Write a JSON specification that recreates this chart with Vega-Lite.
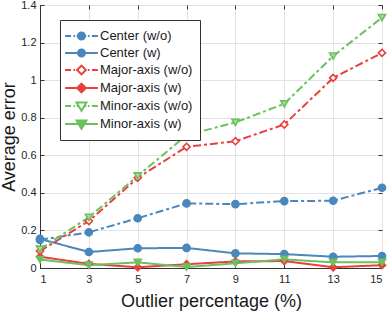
{
  "$schema": "https://vega.github.io/schema/vega-lite/v6.json",
  "autosize": "none",
  "width": 342,
  "height": 263,
  "padding": {"left": 40, "top": 5, "right": 7, "bottom": 43},
  "background": "white",
  "config": {
    "font": "Liberation Sans",
    "view": {"stroke": "#333333", "strokeWidth": 1},
    "axis": {
      "gridColor": "#e3e3e3",
      "gridWidth": 1,
      "domainColor": "#333333",
      "tickColor": "#333333",
      "labelColor": "#262626",
      "labelFontSize": 11,
      "titleColor": "#1a1a1a",
      "titleFontSize": 18,
      "titleFontWeight": "normal"
    }
  },
  "data": {
    "values": [
      {"x": 1, "y": 0.15, "series": "Center (w/o)"},
      {"x": 3, "y": 0.19, "series": "Center (w/o)"},
      {"x": 5, "y": 0.265, "series": "Center (w/o)"},
      {"x": 7, "y": 0.344, "series": "Center (w/o)"},
      {"x": 9, "y": 0.34, "series": "Center (w/o)"},
      {"x": 11, "y": 0.356, "series": "Center (w/o)"},
      {"x": 13, "y": 0.358, "series": "Center (w/o)"},
      {"x": 15, "y": 0.427, "series": "Center (w/o)"},
      {"x": 1, "y": 0.155, "series": "Center (w)"},
      {"x": 3, "y": 0.085, "series": "Center (w)"},
      {"x": 5, "y": 0.105, "series": "Center (w)"},
      {"x": 7, "y": 0.107, "series": "Center (w)"},
      {"x": 9, "y": 0.078, "series": "Center (w)"},
      {"x": 11, "y": 0.074, "series": "Center (w)"},
      {"x": 13, "y": 0.06, "series": "Center (w)"},
      {"x": 15, "y": 0.064, "series": "Center (w)"},
      {"x": 1, "y": 0.09, "series": "Major-axis (w/o)"},
      {"x": 3, "y": 0.25, "series": "Major-axis (w/o)"},
      {"x": 5, "y": 0.48, "series": "Major-axis (w/o)"},
      {"x": 7, "y": 0.645, "series": "Major-axis (w/o)"},
      {"x": 9, "y": 0.675, "series": "Major-axis (w/o)"},
      {"x": 11, "y": 0.764, "series": "Major-axis (w/o)"},
      {"x": 13, "y": 1.012, "series": "Major-axis (w/o)"},
      {"x": 15, "y": 1.145, "series": "Major-axis (w/o)"},
      {"x": 1, "y": 0.06, "series": "Major-axis (w)"},
      {"x": 3, "y": 0.022, "series": "Major-axis (w)"},
      {"x": 5, "y": 0.004, "series": "Major-axis (w)"},
      {"x": 7, "y": 0.02, "series": "Major-axis (w)"},
      {"x": 9, "y": 0.035, "series": "Major-axis (w)"},
      {"x": 11, "y": 0.037, "series": "Major-axis (w)"},
      {"x": 13, "y": 0.004, "series": "Major-axis (w)"},
      {"x": 15, "y": 0.015, "series": "Major-axis (w)"},
      {"x": 1, "y": 0.1, "series": "Minor-axis (w/o)"},
      {"x": 3, "y": 0.27, "series": "Minor-axis (w/o)"},
      {"x": 5, "y": 0.49, "series": "Minor-axis (w/o)"},
      {"x": 7, "y": 0.707, "series": "Minor-axis (w/o)"},
      {"x": 9, "y": 0.775, "series": "Minor-axis (w/o)"},
      {"x": 11, "y": 0.874, "series": "Minor-axis (w/o)"},
      {"x": 13, "y": 1.128, "series": "Minor-axis (w/o)"},
      {"x": 15, "y": 1.333, "series": "Minor-axis (w/o)"},
      {"x": 1, "y": 0.045, "series": "Minor-axis (w)"},
      {"x": 3, "y": 0.015, "series": "Minor-axis (w)"},
      {"x": 5, "y": 0.03, "series": "Minor-axis (w)"},
      {"x": 7, "y": 0.005, "series": "Minor-axis (w)"},
      {"x": 9, "y": 0.025, "series": "Minor-axis (w)"},
      {"x": 11, "y": 0.046, "series": "Minor-axis (w)"},
      {"x": 13, "y": 0.03, "series": "Minor-axis (w)"},
      {"x": 15, "y": 0.03, "series": "Minor-axis (w)"}
    ]
  },
  "layer": [
    {
      "mark": {"type": "line", "strokeWidth": 2},
      "encoding": {
        "x": {
          "field": "x", "type": "quantitative",
          "scale": {"domain": [1, 15], "nice": false, "zero": false},
          "axis": {"values": [1, 3, 5, 7, 9, 11, 13, 15], "title": "Outlier percentage (%)", "tickSize": -4, "labelPadding": 9, "titlePadding": 8}
        },
        "y": {
          "field": "y", "type": "quantitative",
          "scale": {"domain": [0, 1.4], "nice": false},
          "axis": {"values": [0, 0.2, 0.4, 0.6, 0.8, 1, 1.2, 1.4], "format": ".1~f", "title": "Average error", "tickSize": -4, "labelPadding": 8, "titlePadding": 2}
        },
        "color": {
          "field": "series", "type": "nominal", "legend": null,
          "scale": {
            "domain": ["Center (w/o)", "Center (w)", "Major-axis (w/o)", "Major-axis (w)", "Minor-axis (w/o)", "Minor-axis (w)"],
            "range": ["#4a87bc", "#4a87bc", "#e8403c", "#e8403c", "#6cc05e", "#6cc05e"]
          }
        },
        "strokeDash": {
          "field": "series", "type": "nominal", "legend": null,
          "scale": {
            "domain": ["Center (w/o)", "Center (w)", "Major-axis (w/o)", "Major-axis (w)", "Minor-axis (w/o)", "Minor-axis (w)"],
            "range": [[8, 3, 3, 3], [1, 0], [8, 3, 3, 3], [1, 0], [8, 3, 3, 3], [1, 0]]
          }
        }
      }
    },
    {
      "mark": {"type": "point", "strokeWidth": 1.6, "opacity": 1, "size": 50},
      "encoding": {
        "x": {"field": "x", "type": "quantitative", "scale": {"domain": [1, 15], "nice": false, "zero": false}, "axis": null},
        "y": {"field": "y", "type": "quantitative", "scale": {"domain": [0, 1.4], "nice": false}, "axis": null},
        "shape": {
          "field": "series", "type": "nominal", "legend": null,
          "scale": {
            "domain": ["Center (w/o)", "Center (w)", "Major-axis (w/o)", "Major-axis (w)", "Minor-axis (w/o)", "Minor-axis (w)"],
            "range": ["circle", "circle", "diamond", "diamond", "triangle-down", "triangle-down"]
          }
        },
        "stroke": {
          "field": "series", "type": "nominal", "legend": null,
          "scale": {
            "domain": ["Center (w/o)", "Center (w)", "Major-axis (w/o)", "Major-axis (w)", "Minor-axis (w/o)", "Minor-axis (w)"],
            "range": ["#4a87bc", "#4a87bc", "#e8403c", "#e8403c", "#6cc05e", "#6cc05e"]
          }
        },
        "fill": {
          "field": "series", "type": "nominal", "legend": null,
          "scale": {
            "domain": ["Center (w/o)", "Center (w)", "Major-axis (w/o)", "Major-axis (w)", "Minor-axis (w/o)", "Minor-axis (w)"],
            "range": ["#4a87bc", "#4a87bc", "#ffffff", "#e8403c", "#a9dba0", "#6cc05e"]
          }
        }
      }
    },
    {
      "mark": {"type": "point", "strokeWidth": 2, "opacity": 0, "size": 256},
      "encoding": {
        "x": {"field": "x", "type": "quantitative", "scale": {"domain": [1, 15], "nice": false, "zero": false}, "axis": null},
        "y": {"field": "y", "type": "quantitative", "scale": {"domain": [0, 1.4], "nice": false}, "axis": null},
        "shape": {
          "field": "series", "type": "nominal",
          "scale": {
            "domain": ["Center (w/o)", "Center (w)", "Major-axis (w/o)", "Major-axis (w)", "Minor-axis (w/o)", "Minor-axis (w)"],
            "range": [
              "M-2.05,0H-1.3M-1.0,0H-0.8M-0.6,0H-0.44M0.44,0H0.6M0.8,0H1.0M1.3,0H2.05M0.44,0C0.44,0.243 0.243,0.44 0,0.44C-0.243,0.44 -0.44,0.243 -0.44,0C-0.44,-0.243 -0.243,-0.44 0,-0.44C0.243,-0.44 0.44,-0.243 0.44,0Z",
              "M-2.05,0H2.05M0.44,0C0.44,0.243 0.243,0.44 0,0.44C-0.243,0.44 -0.44,0.243 -0.44,0C-0.44,-0.243 -0.243,-0.44 0,-0.44C0.243,-0.44 0.44,-0.243 0.44,0Z",
              "M-2.05,0H-1.3M-1.0,0H-0.8M-0.6,0H-0.55M0.55,0H0.6M0.8,0H1.0M1.3,0H2.05M0,-0.55L0.55,0L0,0.55L-0.55,0Z",
              "M-2.05,0H2.05M0,-0.55L0.55,0L0,0.55L-0.55,0Z",
              "M-2.05,0H-1.3M-1.0,0H-0.8M-0.6,0H-0.36M0.36,0H0.6M0.8,0H1.0M1.3,0H2.05M-0.62,-0.45L0.62,-0.45L0,0.6Z",
              "M-2.05,0H2.05M-0.62,-0.45L0.62,-0.45L0,0.6Z"
            ]
          },
          "legend": {
            "title": null,
            "orient": "none",
            "legendX": 20,
            "legendY": 15,
            "padding": 7,
            "symbolOffset": 5.5,
            "labelOffset": 9.5,
            "rowPadding": -2.5,
            "labelFontSize": 13,
            "labelColor": "#1a1a1a",
            "labelFont": "Liberation Sans",
            "symbolStrokeWidth": 2,
            "symbolSize": 256,
            "strokeColor": "#333333",
            "fillColor": "white",
            "symbolOpacity": 1
          }
        },
        "stroke": {
          "field": "series", "type": "nominal",
          "scale": {
            "domain": ["Center (w/o)", "Center (w)", "Major-axis (w/o)", "Major-axis (w)", "Minor-axis (w/o)", "Minor-axis (w)"],
            "range": ["#4a87bc", "#4a87bc", "#e8403c", "#e8403c", "#6cc05e", "#6cc05e"]
          }
        },
        "fill": {
          "field": "series", "type": "nominal",
          "scale": {
            "domain": ["Center (w/o)", "Center (w)", "Major-axis (w/o)", "Major-axis (w)", "Minor-axis (w/o)", "Minor-axis (w)"],
            "range": ["#4a87bc", "#4a87bc", "#ffffff", "#e8403c", "#ffffff", "#6cc05e"]
          }
        }
      }
    },
    {
      "mark": {"type": "point", "opacity": 0},
      "encoding": {
        "x": {
          "field": "x", "type": "quantitative",
          "scale": {"domain": [1, 15], "nice": false, "zero": false},
          "axis": {"orient": "top", "values": [1, 3, 5, 7, 9, 11, 13, 15], "title": null, "labels": false, "grid": false, "domain": false, "tickSize": -4}
        },
        "y": {
          "field": "y", "type": "quantitative",
          "scale": {"domain": [0, 1.4], "nice": false},
          "axis": {"orient": "right", "values": [0, 0.2, 0.4, 0.6, 0.8, 1, 1.2, 1.4], "title": null, "labels": false, "grid": false, "domain": false, "tickSize": -4}
        }
      }
    }
  ],
  "resolve": {
    "scale": {"color": "independent", "strokeDash": "independent", "shape": "independent", "stroke": "independent", "fill": "independent"},
    "axis": {"x": "independent", "y": "independent"},
    "legend": {"shape": "independent", "stroke": "independent", "fill": "independent"}
  }
}
